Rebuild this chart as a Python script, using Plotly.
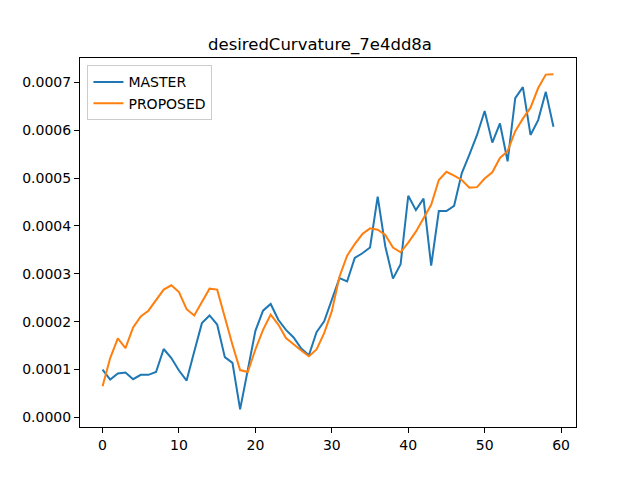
import plotly.graph_objects as go

x_vals = list(range(60))
master = [0.000100, 0.000079, 0.000092, 0.000094, 0.000080, 0.000089, 0.000089, 0.000095, 0.000143, 0.000124,
          0.000098, 0.000077, 0.000138, 0.000197, 0.000213, 0.000194, 0.000126, 0.000114, 0.000017, 0.000100,
          0.000181, 0.000223, 0.000237, 0.000204, 0.000183, 0.000167, 0.000144, 0.000130, 0.000178, 0.000201,
          0.000246, 0.000291, 0.000284, 0.000333, 0.000343, 0.000355, 0.000461, 0.000357, 0.000290, 0.000320,
          0.000463, 0.000433, 0.000457, 0.000317, 0.000431, 0.000431, 0.000442, 0.000510, 0.000549, 0.000590,
          0.000640, 0.000574, 0.000614, 0.000535, 0.000667, 0.000690, 0.000590, 0.000621, 0.000680, 0.000607]
proposed = [0.000065, 0.000124, 0.000165, 0.000145, 0.000188, 0.000211, 0.000223, 0.000244, 0.000267, 0.000276,
            0.000262, 0.000226, 0.000213, 0.000241, 0.000269, 0.000267, 0.000208, 0.000152, 0.000099, 0.000095,
            0.000142, 0.000183, 0.000215, 0.000194, 0.000166, 0.000152, 0.000140, 0.000128, 0.000142, 0.000176,
            0.000222, 0.000294, 0.000338, 0.000362, 0.000383, 0.000395, 0.000392, 0.000381, 0.000355, 0.000345,
            0.000365, 0.000388, 0.000416, 0.000444, 0.000496, 0.000513, 0.000505, 0.000496, 0.000480, 0.000481,
            0.000499, 0.000512, 0.000542, 0.000556, 0.000598, 0.000624, 0.000647, 0.000688, 0.000716, 0.000717]
x_ticks = [0, 10, 20, 30, 40, 50, 60]
y_ticks = [0.0, 0.0001, 0.0002, 0.0003, 0.0004, 0.0005, 0.0006, 0.0007]
title = "desiredCurvature_7e4dd8a"

font = "DejaVu Sans, Liberation Sans, sans-serif"

fig = go.Figure()
fig.add_trace(go.Scatter(x=x_vals, y=master, mode="lines", name="MASTER",
                         line=dict(color="#1f77b4", width=2)))
fig.add_trace(go.Scatter(x=x_vals, y=proposed, mode="lines", name="PROPOSED",
                         line=dict(color="#ff7f0e", width=2)))

axis_common = dict(showgrid=False, zeroline=False, showline=True, linecolor="black", linewidth=1,
                   mirror=True, ticks="outside", ticklen=5, tickwidth=1, tickcolor="black",
                   tickfont=dict(family=font, size=14, color="black"))

fig.update_layout(
    width=640, height=480,
    margin=dict(l=80, r=64, t=58, b=53),
    paper_bgcolor="white", plot_bgcolor="white",
    title=dict(text=title, x=0.5, xanchor="center", y=1 - 44/480, yanchor="middle",
               font=dict(family=font, size=16.5, color="black")),
    xaxis=dict(range=[-2.95, 61.95], tickvals=x_ticks, ticktext=[str(t) for t in x_ticks], **axis_common),
    yaxis=dict(range=[-0.0000199, 0.0007507], tickvals=y_ticks, ticktext=[f"{t:.4f}" for t in y_ticks], **axis_common),
    legend=dict(x=0.015, y=0.98, xanchor="left", yanchor="top", bgcolor="rgba(255,255,255,0.8)",
                bordercolor="#cccccc", borderwidth=1, font=dict(family=font, size=14, color="black"),
                itemwidth=30, tracegroupgap=0),
    showlegend=True,
)

fig.write_html("out.html", config={"displayModeBar": False},
               post_script="document.body.style.margin='0';document.body.style.padding='0';")
